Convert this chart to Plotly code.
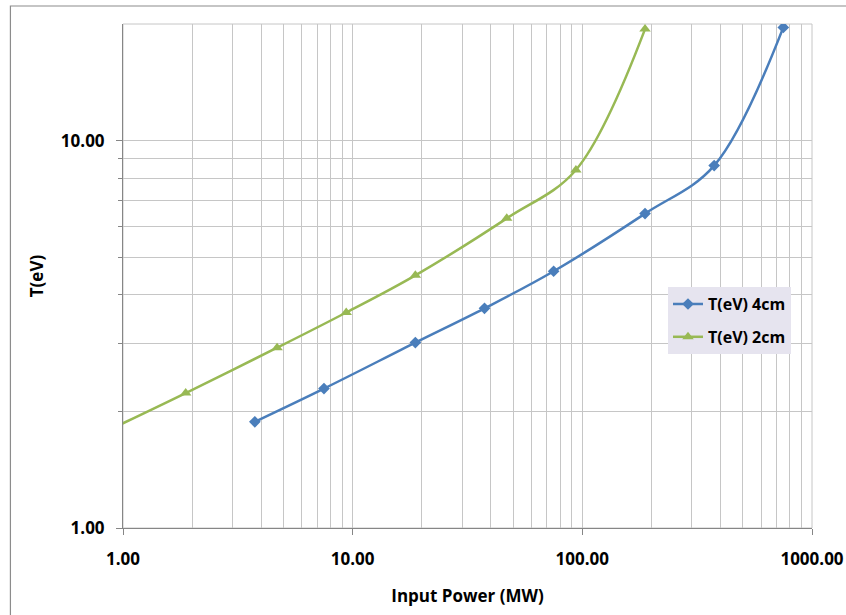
import plotly.graph_objects as go

# Data
power_4cm = [3.75, 7.5, 18.75, 37.5, 75, 187.5, 375, 750]
temp_4cm = [1.88, 2.29, 3.01, 3.69, 4.60, 6.48, 8.62, 19.6]

power_2cm = [0.9375, 1.875, 4.6875, 9.375, 18.75, 46.875, 93.75, 187.5]
temp_2cm = [1.83, 2.23, 2.92, 3.60, 4.49, 6.30, 8.40, 19.4]

x_tickvals = [1, 10, 100, 1000]
x_ticktext = ["1.00", "10.00", "100.00", "1000.00"]
y_tickvals = [1, 10]
y_ticktext = ["1.00", "10.00"]

x_minor = [2, 3, 4, 5, 6, 7, 8, 9, 20, 30, 40, 50, 60, 70, 80, 90,
           200, 300, 400, 500, 600, 700, 800, 900]
y_minor = [2, 3, 4, 5, 6, 7, 8, 9]

FONT = "Open Sans"
GRID = "#c6c6c6"
AXIS = "#868686"

fig = go.Figure()
fig.add_trace(go.Scatter(
    x=power_4cm, y=temp_4cm, name="T(eV) 4cm", mode="lines+markers",
    legendgroup="a",
    line=dict(color="#4a7ebb", width=2.5, shape="spline", smoothing=1),
    marker=dict(symbol="diamond", size=9, color="#4a7ebb"),
))
fig.add_trace(go.Scatter(
    x=power_2cm, y=temp_2cm, name="T(eV) 2cm", mode="lines+markers",
    legendgroup="b",
    line=dict(color="#98b954", width=2.5, shape="spline", smoothing=1),
    marker=dict(symbol="triangle-up", size=10, color="#98b954"),
))

fig.update_layout(
    width=846, height=615,
    margin=dict(l=123, r=34, t=24, b=87, autoexpand=False),
    paper_bgcolor="white", plot_bgcolor="white",
    font=dict(family=FONT, size=16, color="black"),
    showlegend=True,
    legend=dict(
        x=0.791, y=0.478, xanchor="left", yanchor="top",
        bgcolor="#e6e4ef", borderwidth=0,
        font=dict(family=FONT, size=16, color="black", weight="bold"),
        itemwidth=30, tracegroupgap=9,
    ),
    xaxis=dict(
        type="log", range=[0, 3], automargin=False,
        tickmode="array", tickvals=x_tickvals, ticktext=x_ticktext,
        tickfont=dict(family=FONT, size=17, color="black", weight="bold"),
        ticks="outside", ticklen=6, tickcolor=AXIS, tickwidth=1,
        ticklabelstandoff=10,
        showgrid=True, gridcolor=GRID, gridwidth=1,
        showline=True, linecolor=AXIS, linewidth=1,
        minor=dict(tickvals=x_minor, showgrid=True, gridcolor=GRID, gridwidth=1, ticks=""),
        zeroline=False,
        title=dict(text="Input Power (MW)", standoff=20,
                   font=dict(family=FONT, size=17, color="black", weight="bold")),
    ),
    yaxis=dict(
        type="log", range=[0, 1.30103], automargin=False,
        tickmode="array", tickvals=y_tickvals, ticktext=y_ticktext,
        tickfont=dict(family=FONT, size=17, color="black", weight="bold"),
        ticks="outside", ticklen=6, tickcolor=AXIS, tickwidth=1,
        ticklabelstandoff=8,
        showgrid=True, gridcolor=GRID, gridwidth=1,
        showline=True, linecolor=AXIS, linewidth=1,
        minor=dict(tickvals=y_minor, showgrid=True, gridcolor=GRID, gridwidth=1,
                   ticks="outside", ticklen=4, tickcolor=AXIS),
        zeroline=False,
        title=dict(text="T(eV)", standoff=12,
                   font=dict(family=FONT, size=17, color="black", weight="bold")),
    ),
    shapes=[
        dict(type="rect", xref="paper", yref="paper", x0=0, x1=1, y0=0, y1=1,
             line=dict(color=GRID, width=1), layer="below"),
        dict(type="rect", xref="paper", yref="paper", x0=-0.1634, x1=1.2, y0=-0.3, y1=1.0357,
             line=dict(color="#8c8c8c", width=1.2), layer="below"),
    ],
)

fig.write_html(
    "out.html",
    config={"displayModeBar": False},
    post_script="document.body.style.margin='0';document.body.style.overflow='hidden';",
)
